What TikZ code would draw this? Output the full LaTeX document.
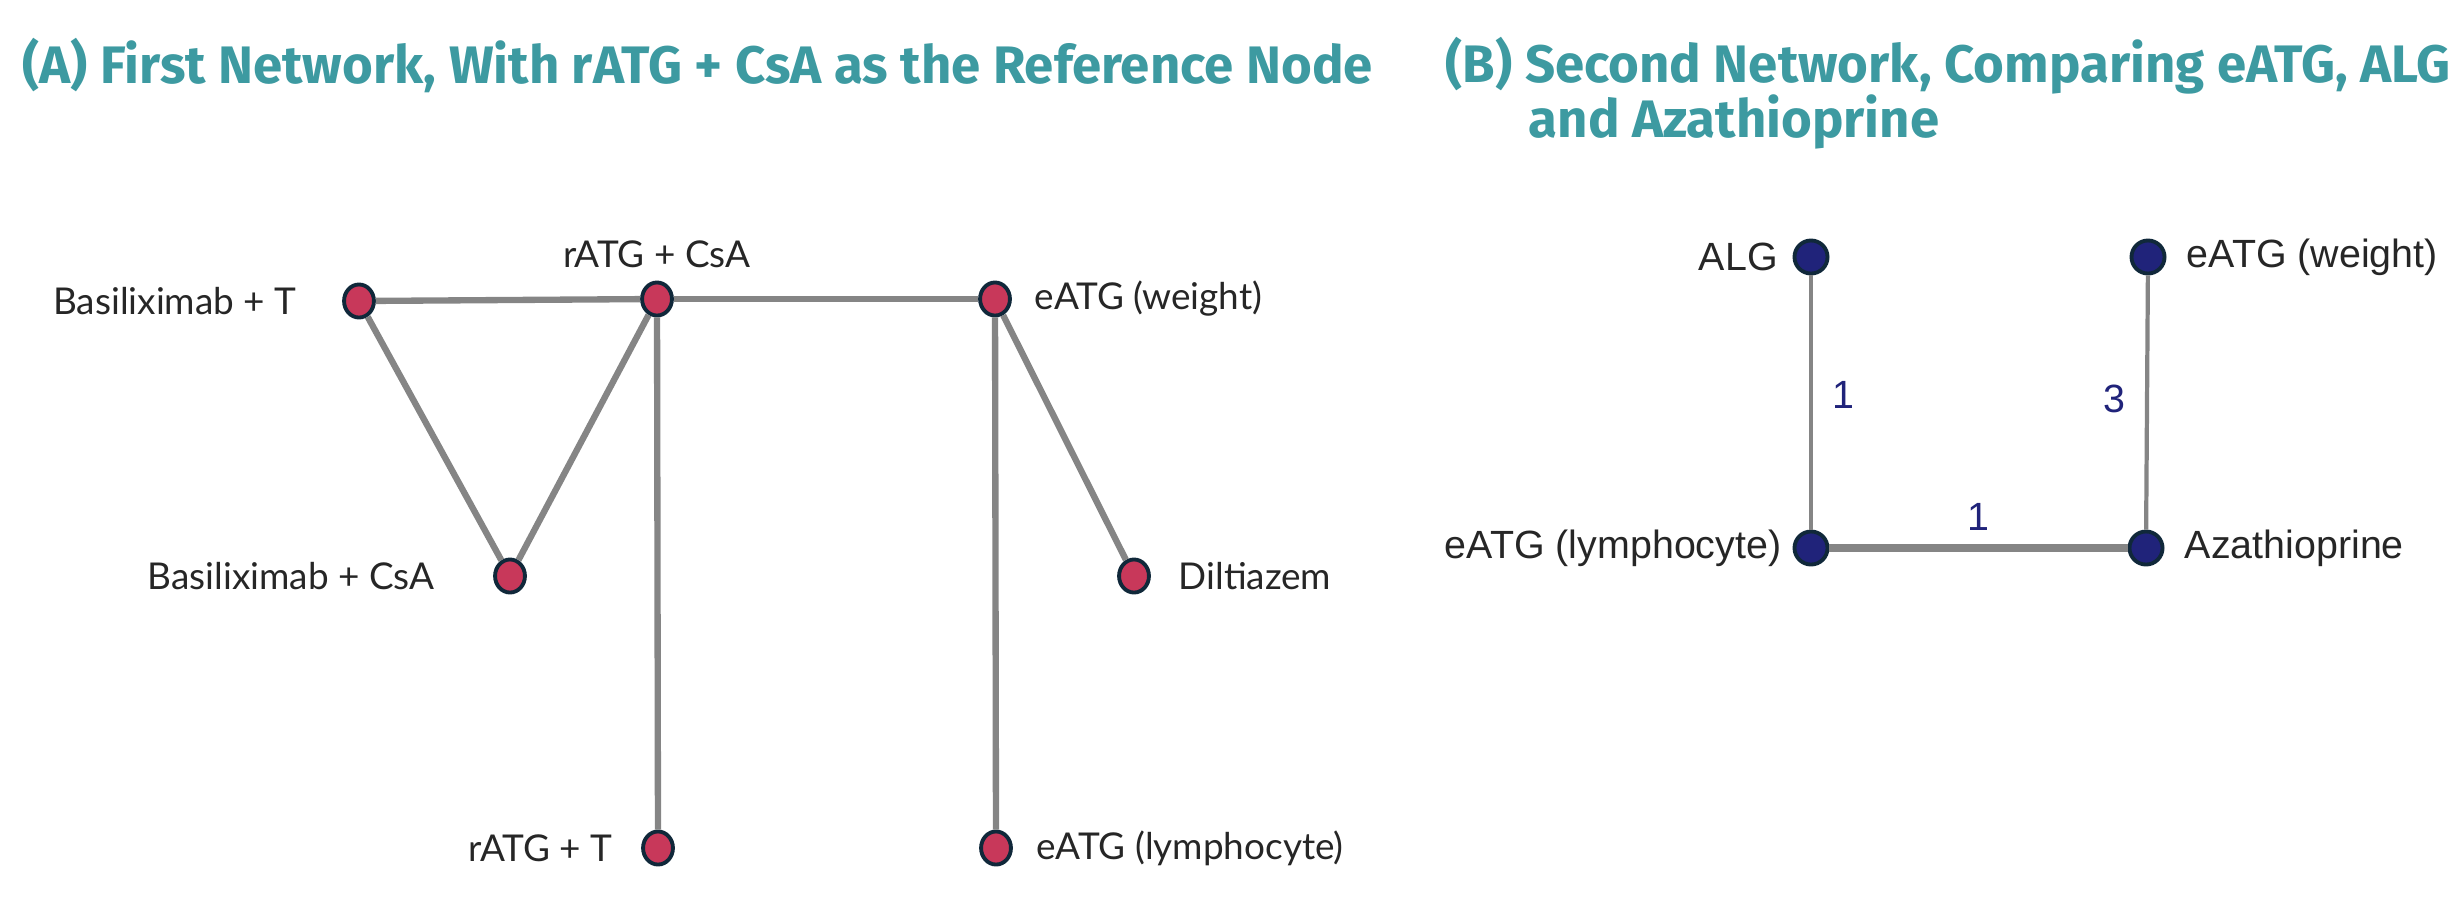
\documentclass[tikz,border=0pt]{standalone}
\usepackage{fontspec}
\setmainfont{Liberation Sans}
\newfontfamily\labfont{Lato}
\newfontfamily\headfont{Fira Sans}
\usetikzlibrary{shapes.geometric}

\definecolor{headteal}{HTML}{3D9AA1}
\definecolor{nodered}{HTML}{C8385A}
\definecolor{nodenavy}{HTML}{20237A}
\definecolor{rimdark}{HTML}{10283A}
\definecolor{edgegray}{HTML}{858585}

\begin{document}
\begin{tikzpicture}[
    x=0.01cm, y=-0.01cm,
    head/.style={anchor=west, inner sep=0pt, text=headteal, font=\headfont\bfseries\fontsize{15}{17}\selectfont},
    redpt/.style={ellipse, draw=rimdark, line width=1.1pt, fill=nodered, minimum width=8.5pt, minimum height=9.4pt, inner sep=0pt},
    navypt/.style={circle, draw=rimdark, line width=1.1pt, fill=nodenavy, minimum size=9.4pt, inner sep=0pt},
    lblA/.style={font=\labfont\fontsize{10.5}{12}\selectfont, text=black!85, inner sep=0pt},
    lblB/.style={font=\fontsize{11.2}{13}\selectfont, text=black!85, inner sep=0pt},
    link/.style={draw=edgegray, line width=1.8pt},
    num/.style={font=\fontsize{11.2}{13}\selectfont, text=nodenavy, inner sep=0pt}
]
\useasboundingbox (0,0) rectangle (2458,911);

% Titles
\node[head] (titleA) at (22,66) {(A) First Network, With rATG + CsA as the Reference Node};
\node[head] (titleB) at (1445,66) {(B) Second Network, Comparing eATG, ALG};
\node[head] (titleB2) at (1528,122) {and Azathioprine};

% Network A nodes
\node[redpt, label={[lblA, label distance=12.8pt]left:Basiliximab + T}] (basT) at (359,301) {};
\node[redpt, label={[lblA, label distance=3.4pt]above:rATG + CsA}] (ratgC) at (657,299) {};
\node[redpt, label={[lblA, label distance=6.3pt]right:eATG (weight)}] (eatgW) at (995,299) {};
\node[redpt, label={[lblA, label distance=16.5pt]left:Basiliximab + CsA}] (basC) at (510,576) {};
\node[redpt, label={[lblA, label distance=7.7pt]right:Diltiazem}] (dilt) at (1134,576) {};
\node[redpt, label={[lblA, label distance=8pt]left:rATG + T}] (ratgT) at (658,848) {};
\node[redpt, label={[lblA, label distance=6.5pt]right:eATG (lymphocyte)}] (eatgL) at (996,848) {};

% Network A links
\draw[link] (basT) -- (ratgC);
\draw[link] (ratgC) -- (eatgW);
\draw[link] (basT) -- (basC);
\draw[link] (basC) -- (ratgC);
\draw[link] (ratgC) -- (ratgT);
\draw[link] (eatgW) -- (dilt);
\draw[link] (eatgW) -- (eatgL);

% Network B nodes
\node[navypt, label={[lblB, label distance=4pt]left:ALG}] (alg) at (1811,257) {};
\node[navypt, label={[lblB, label distance=5.6pt]right:eATG (weight)}] (bW) at (2148,257) {};
\node[navypt, label={[lblB, label distance=3pt]left:eATG (lymphocyte)}] (bL) at (1811,548) {};
\node[navypt, label={[lblB, label distance=5.6pt]right:Azathioprine}] (aza) at (2146,548) {};

% Network B links
\draw[link, line width=1.2pt] (alg) -- node[num, pos=0.47, right=5.6pt] {1} (bL);
\draw[link, line width=1.2pt] (bW) -- node[num, pos=0.485, left=5.5pt] {3} (aza);
\draw[link, line width=2.1pt] (bL) -- node[num, above=4pt] {1} (aza);

\end{tikzpicture}
\end{document}
